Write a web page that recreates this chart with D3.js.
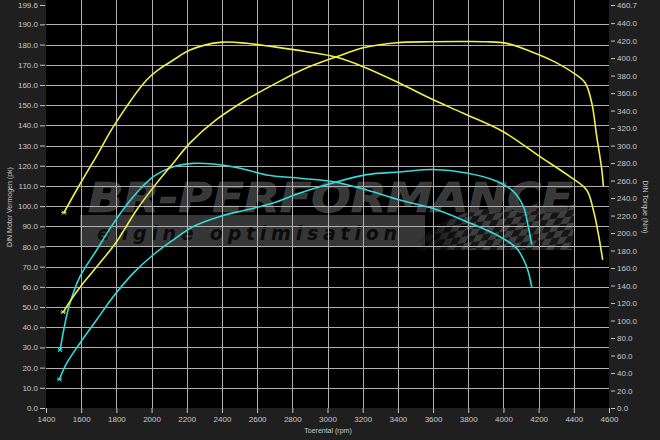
<!DOCTYPE html>
<html><head><meta charset="utf-8">
<script src="https://cdn.jsdelivr.net/npm/d3@7"></script>
<style>html,body{margin:0;padding:0;background:#1f1f1f;}svg{display:block;}</style>
</head><body><svg id="c" width="660" height="440"></svg>
<script>
// ---- data ----
const xTicks = [1400,1600,1800,2000,2200,2400,2600,2800,3000,3200,3400,3600,3800,4000,4200,4400,4600];
const leftTicks = [0,10,20,30,40,50,60,70,80,90,100,110,120,130,140,150,160,170,180,190,199.6];
const rightTicks = [0,20,40,60,80,100,120,140,160,180,200,220,240,260,280,300,320,340,360,380,400,420,440,460.7];

// tuned power (pk, left axis)
const tunedPowerRpm = [1498,1555,1612,1707,1802,1916,2030,2124,2219,2370,2541,2730,2882,3052,3203,3393,3583,3750,3905,4018,4151,4283,4397,4464,4502,4530,4559,4568];
const tunedPowerPk  = [47.5,55.2,61.9,71.9,82.5,98.2,111.5,121.4,131.3,142.9,152.8,161.9,168.5,174.0,178.4,180.9,181.4,181.5,181.4,180.6,176.7,171.8,166.0,161.1,151.1,134.6,118.1,109.8];
// tuned torque (Nm, right axis)
const tunedTorqueRpm = [1502,1574,1707,1783,1972,2048,2124,2218,2389,2541,2690,2882,3052,3203,3393,3583,3772,3999,4208,4378,4473,4511,4539,4564];
const tunedTorqueNm  = [223.3,249.2,294.9,321.6,374.9,388.0,397.8,409.2,418.0,416.9,413.0,407.3,400.9,390.2,373.0,354.0,336.9,315.8,287.3,264.4,249.2,226.3,199.7,169.2];
// stock power (pk, left axis)
const stockPowerRpm = [1476,1518,1593,1688,1783,1896,2010,2124,2237,2389,2541,2692,2844,2995,3223,3412,3601,3791,3962,4056,4113,4141,4161];
const stockPowerPk  = [14.2,22.2,32.1,43.7,55.2,66.8,75.9,83.3,89.9,94.9,98.2,101.5,106.5,110.6,115.6,116.9,118.1,116.4,112.3,107.3,99.9,89.9,80.9];
// stock torque (Nm, right axis)
const stockTorqueRpm = [1480,1508,1536,1593,1688,1783,1896,2010,2124,2237,2351,2503,2654,2844,3033,3223,3412,3601,3791,3980,4075,4132,4161];
const stockTorqueNm  = [66.3,96.8,119.7,150.1,180.6,211.1,241.5,264.4,275.8,279.7,278.9,274.0,266.4,262.6,258.7,249.2,237.8,228.0,213.0,195.8,182.6,161.5,138.0];

const xTitle = "Toerental (rpm)";
const leftTitle = "DIN Motor Vermogen (pk)";
const rightTitle = "DIN Torque (Nm)";

// ---- layout ----
const W = 660, H = 440;
const L = 46, R = 609, T = 5, B = 408;
const svg = d3.select("#c");
const txt = "#c8c8c8";
const font = "Liberation Sans, Arial, sans-serif";

const x = d3.scaleLinear().domain([1400,4600]).range([L,R]);
const yL = d3.scaleLinear().domain([0,199.6]).range([B,T]);
const yR = d3.scaleLinear().domain([0,460.7]).range([B,T]);

svg.append("rect").attr("width",W).attr("height",H).attr("fill","#1f1f1f");
svg.append("rect").attr("x",L).attr("y",0).attr("width",R-L).attr("height",B).attr("fill","#000");

// ---- watermark ----
const defs = svg.append("defs");
const pat = defs.append("pattern").attr("id","chk").attr("patternUnits","userSpaceOnUse")
  .attr("width",14).attr("height",14).attr("patternTransform","skewX(-35) rotate(-8)");
pat.append("rect").attr("width",14).attr("height",14).attr("fill","#161616");
pat.append("rect").attr("width",7).attr("height",7).attr("fill","#3e3e3e");
pat.append("rect").attr("x",7).attr("y",7).attr("width",7).attr("height",7).attr("fill","#3e3e3e");
const grad = defs.append("linearGradient").attr("id","fade").attr("x1","0").attr("x2","1");
grad.append("stop").attr("offset","0").attr("stop-color","#fff").attr("stop-opacity",0);
grad.append("stop").attr("offset","0.35").attr("stop-color","#fff").attr("stop-opacity",1);
const mask = defs.append("mask").attr("id","fm");
mask.append("rect").attr("x",410).attr("y",200).attr("width",170).attr("height",55).attr("fill","url(#fade)");

const wm = svg.append("g");
wm.append("rect").attr("x",80).attr("y",215).attr("width",345).attr("height",32).attr("fill","#363636");
wm.append("path").attr("d","M410,250 C440,215 470,210 500,207 L575,205 L572,250 Z")
  .attr("fill","url(#chk)").attr("mask","url(#fm)");
wm.append("text").attr("x",88).attr("y",212).attr("font-family","DejaVu Sans, sans-serif")
  .attr("font-weight","bold").attr("font-style","italic").attr("font-size",40)
  .attr("textLength",485).attr("lengthAdjust","spacingAndGlyphs")
  .attr("fill","#383838").attr("stroke","#4a4a4a").attr("stroke-width",0.6)
  .text("BR-PERFORMANCE");
wm.append("text").attr("x",97).attr("y",240).attr("font-family","DejaVu Sans, sans-serif")
  .attr("font-weight","bold").attr("font-style","italic").attr("font-size",19)
  .attr("textLength",300).attr("lengthAdjust","spacing")
  .attr("fill","#0c0c0c").text("engine optimisation");

// ---- grid ----
const grid = svg.append("g").attr("stroke","#b0b0b0").attr("stroke-width",1);
xTicks.slice(1,-1).forEach(v=>{
  grid.append("line").attr("x1",Math.round(x(v))+0.5).attr("x2",Math.round(x(v))+0.5).attr("y1",0).attr("y2",B);
});
leftTicks.filter(v=>v>0 && v<199).forEach(v=>{
  grid.append("line").attr("x1",L).attr("x2",R).attr("y1",Math.round(yL(v))+0.5).attr("y2",Math.round(yL(v))+0.5);
});

// ---- axes ----
const axStyle = g => {
  g.select(".domain").remove();
  g.selectAll(".tick line").attr("stroke",txt);
  g.selectAll(".tick text").attr("fill",txt).attr("font-family",font).attr("font-size",8);
};
svg.append("g").attr("transform",`translate(0,${B})`)
  .call(d3.axisBottom(x).tickValues(xTicks).tickFormat(d3.format("d")).tickSize(5).tickPadding(3))
  .call(axStyle);
svg.append("g").attr("transform",`translate(${L-1},0)`)
  .call(d3.axisLeft(yL).tickValues(leftTicks).tickFormat(d=>d.toFixed(1)).tickSize(5).tickPadding(2))
  .call(axStyle);
svg.append("g").attr("transform",`translate(${R+2},0)`)
  .call(d3.axisRight(yR).tickValues(rightTicks).tickFormat(d=>d.toFixed(1)).tickSize(4).tickPadding(2))
  .call(axStyle);

svg.append("text").attr("x",328).attr("y",433).attr("text-anchor","middle")
  .attr("fill",txt).attr("font-family",font).attr("font-size",7).text(xTitle);
svg.append("text").attr("transform","translate(12,207) rotate(-90)").attr("text-anchor","middle")
  .attr("fill",txt).attr("font-family",font).attr("font-size",7).text(leftTitle);
svg.append("text").attr("transform","translate(643,207) rotate(90)").attr("text-anchor","middle")
  .attr("fill",txt).attr("font-family",font).attr("font-size",7).text(rightTitle);

// ---- curves ----
function curve(rpms, vals, yScale, color){
  const pts = rpms.map((r,i)=>[r, vals[i]]);
  const line = d3.line().x(d=>x(d[0])).y(d=>yScale(d[1])).curve(d3.curveCatmullRom.alpha(0.5));
  svg.append("path").attr("d",line(pts)).attr("fill","none").attr("stroke",color)
    .attr("stroke-width",1.6).attr("stroke-linejoin","round");
  const p = pts[0];
  const cx = x(p[0]), cy = yScale(p[1]);
  svg.append("path").attr("d",`M${cx-2},${cy-2}L${cx+2},${cy+2}M${cx-2},${cy+2}L${cx+2},${cy-2}M${cx-2.5},${cy}L${cx+2.5},${cy}`)
    .attr("stroke",color).attr("stroke-width",1);
}
const yellow = "#f2ef4a", cyan = "#34d9d9";
curve(stockPowerRpm, stockPowerPk, yL, cyan);
curve(stockTorqueRpm, stockTorqueNm, yR, cyan);
curve(tunedPowerRpm, tunedPowerPk, yL, yellow);
curve(tunedTorqueRpm, tunedTorqueNm, yR, yellow);
</script></body></html>
